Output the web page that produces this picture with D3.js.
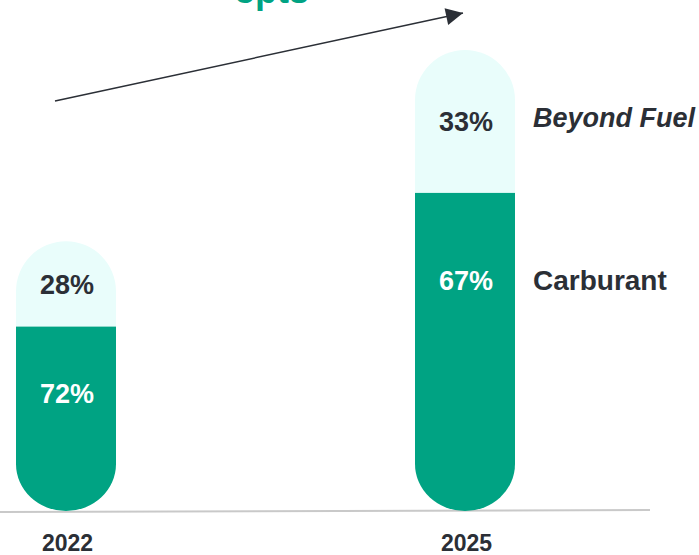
<!DOCTYPE html>
<html>
<head>
<meta charset="utf-8">
<script src="https://cdn.jsdelivr.net/npm/d3@7"></script>
<style>
  html, body { margin: 0; padding: 0; background: #fff; overflow: hidden; }
  text { font-family: "Liberation Sans", Arial, sans-serif; }
</style>
</head>
<body>
<div id="chart"></div>
<script>
const years = ["2022", "2025"];
// segment heights (index, 2025 total = 100)
const carburant = [40, 69];
const beyondFuel = [18.5, 31];
const carburantLabels = ["72%", "67%"];
const beyondLabels = ["28%", "33%"];
const seriesNames = ["Beyond Fuel", "Carburant"];
const headline = "+5pts";

const W = 699, H = 555;
const GREEN = "#00a383", LIGHT = "#e9fdfb", INK = "#2b2f36";
const barW = 100;

const svg = d3.select("#chart").append("svg")
    .attr("width", W)
    .attr("height", H);

const x = d3.scalePoint().domain(years).range([66, 465]);
const y = d3.scaleLinear().domain([0, 100]).range([511, 50]);

const data = years.map((yr, i) => ({
    year: yr,
    carb: carburant[i],
    beyond: beyondFuel[i],
    total: carburant[i] + beyondFuel[i],
    carbLabel: carburantLabels[i],
    beyondLabel: beyondLabels[i]
}));

// capsule outline: round top, slightly flattened round bottom
function capsule(d){
    const x0 = x(d.year) - barW / 2, x1 = x0 + barW;
    const top = y(d.total), bot = y(0);
    const r = barW / 2, rb = 47;
    return `M${x0},${top + r} A${r},${r} 0 0 1 ${x1},${top + r}` +
           ` L${x1},${bot - rb} A${r},${rb} 0 0 1 ${x0},${bot - rb} Z`;
}

const defs = svg.append("defs");
defs.selectAll("clipPath")
    .data(data)
    .join("clipPath")
        .attr("id", (d, i) => `cap${i}`)
    .append("path")
        .attr("d", capsule);

defs.append("marker")
    .attr("id", "head")
    .attr("viewBox", "0 0 10 10")
    .attr("refX", 10).attr("refY", 5)
    .attr("markerUnits", "userSpaceOnUse")
    .attr("markerWidth", 19).attr("markerHeight", 17)
    .attr("orient", "auto")
  .append("path")
    .attr("d", "M0,0 L10,5 L0,10 Z")
    .attr("fill", INK);

// baseline
svg.append("line")
    .attr("x1", 0).attr("y1", 512)
    .attr("x2", 650).attr("y2", 510)
    .attr("stroke", "#c9c9c9")
    .attr("stroke-width", 2);

const bars = svg.selectAll("g.bar")
    .data(data)
    .join("g")
        .attr("class", "bar")
        .attr("clip-path", (d, i) => `url(#cap${i})`);

bars.append("rect")
    .attr("x", d => x(d.year) - barW / 2)
    .attr("width", barW)
    .attr("y", d => y(d.total) - 1)
    .attr("height", d => y(d.carb) - y(d.total) + 1)
    .attr("fill", LIGHT);

bars.append("rect")
    .attr("x", d => x(d.year) - barW / 2)
    .attr("width", barW)
    .attr("y", d => y(d.carb))
    .attr("height", d => y(0) - y(d.carb) + 1)
    .attr("fill", GREEN);

// value labels
const beyondY = d => (y(d.total) + y(d.carb)) / 2 + 10;
const carbY = d => y(d.carb) + 0.15 * (y(0) - y(d.carb)) + 49;

svg.selectAll("text.beyond")
    .data(data)
    .join("text")
        .attr("class", "beyond")
        .attr("x", d => x(d.year) + 1)
        .attr("y", beyondY)
        .attr("text-anchor", "middle")
        .attr("font-size", 27)
        .attr("font-weight", "bold")
        .attr("fill", INK)
        .text(d => d.beyondLabel);

svg.selectAll("text.carb")
    .data(data)
    .join("text")
        .attr("class", "carb")
        .attr("x", d => x(d.year) + 1)
        .attr("y", carbY)
        .attr("text-anchor", "middle")
        .attr("font-size", 27)
        .attr("font-weight", "bold")
        .attr("fill", "#fff")
        .text(d => d.carbLabel);

// series names next to the last bar
const last = data[data.length - 1];
const nameX = x(last.year) + barW / 2 + 18;
svg.append("text")
    .attr("x", nameX)
    .attr("y", beyondY(last) - 4)
    .attr("font-size", 27)
    .attr("font-weight", "bold")
    .attr("font-style", "italic")
    .attr("fill", INK)
    .text(seriesNames[0]);
svg.append("text")
    .attr("x", nameX)
    .attr("y", carbY(last))
    .attr("font-size", 28)
    .attr("font-weight", "bold")
    .attr("fill", INK)
    .text(seriesNames[1]);

// year axis
const axis = d3.axisBottom(x).tickSize(0).tickPadding(0);
svg.append("g")
    .attr("transform", "translate(1,535)")
    .call(axis)
    .call(g => g.select(".domain").remove())
    .call(g => g.selectAll("text")
        .attr("dy", "0.71em")
        .attr("font-size", 23)
        .attr("font-weight", "bold")
        .attr("font-family", "Liberation Sans, Arial, sans-serif")
        .attr("fill", INK));

// growth arrow + headline
svg.append("line")
    .attr("x1", 55).attr("y1", 101)
    .attr("x2", 463).attr("y2", 13)
    .attr("stroke", INK)
    .attr("stroke-width", 1.5)
    .attr("marker-end", "url(#head)");

svg.append("text")
    .attr("x", 309)
    .attr("y", 3)
    .attr("text-anchor", "end")
    .attr("font-size", 36)
    .attr("font-weight", "bold")
    .attr("fill", GREEN)
    .text(headline);
</script>
</body>
</html>
